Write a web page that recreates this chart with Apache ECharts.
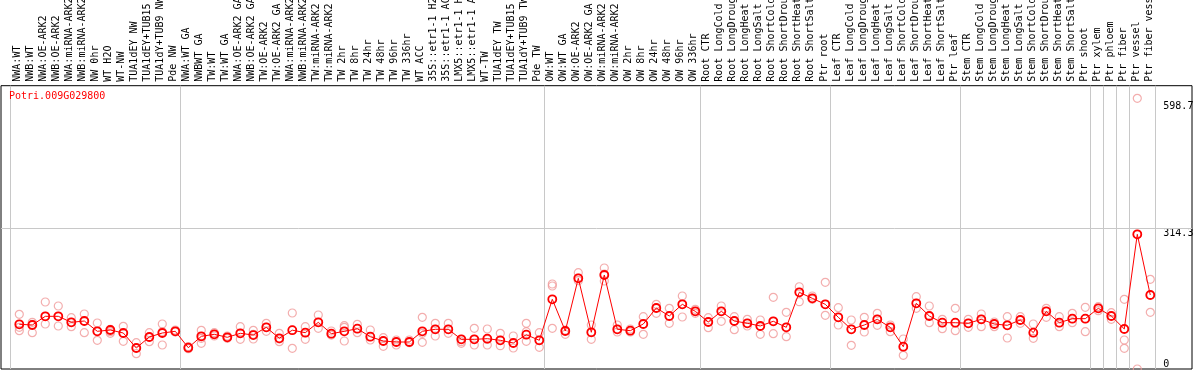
<!DOCTYPE html>
<html>
<head>
<meta charset="utf-8">
<script src="https://cdn.jsdelivr.net/npm/echarts@6/dist/echarts.min.js"></script>
<style>
html,body{margin:0;padding:0;background:#fff;}
#c{width:1194px;height:370px;}
</style>
</head>
<body>
<div id="c"></div>
<script>
const geneId = 'Potri.009G029800';

const categories = [
  'NWA:WT','NWB:WT','NWA:OE-ARK2','NWB:OE-ARK2','NWA:miRNA-ARK2','NWB:miRNA-ARK2','NW 0hr','WT H2O','WT-NW','TUA1dEY NW','TUA1dEY+TUB15 NW','TUA1dY+TUB9 NW','Pde NW',
  'NWA:WT GA','NWBWT GA','TW:WT','TW:WT GA','NWA:OE-ARK2 GA','NWB:OE-ARK2 GA','TW:OE-ARK2','TW:OE-ARK2 GA','NWA:miRNA-ARK2 GA','NWB:miRNA-ARK2 GA','TW:miRNA-ARK2','TW:miRNA-ARK2 GA',
  'TW 2hr','TW 8hr','TW 24hr','TW 48hr','TW 96hr','TW 336hr','WT ACC','35S::etr1-1 H2O','35S::etr1-1 ACC','LMX5::etr1-1 H2O','LMX5::etr1-1 ACC','WT-TW','TUA1dEY TW','TUA1dEY+TUB15 TW','TUA1dY+TUB9 TW','Pde TW',
  'OW:WT','OW:WT GA','OW:OE-ARK2','OW:OE-ARK2 GA','OW:miRNA-ARK2','OW:miRNA-ARK2 GA','OW 2hr','OW 8hr','OW 24hr','OW 48hr','OW 96hr','OW 336hr',
  'Root CTR','Root LongCold','Root LongDrought','Root LongHeat','Root LongSalt','Root ShortCold','Root ShortDrought','Root ShortHeat','Root ShortSalt','Ptr root',
  'Leaf CTR','Leaf LongCold','Leaf LongDrought','Leaf LongHeat','Leaf LongSalt','Leaf ShortCold','Leaf ShortDrought','Leaf ShortHeat','Leaf ShortSalt','Ptr leaf',
  'Stem CTR','Stem LongCold','Stem LongDrought','Stem LongHeat','Stem LongSalt','Stem ShortCold','Stem ShortDrought','Stem ShortHeat','Stem ShortSalt','Ptr shoot',
  'Ptr xylem','Ptr phloem','Ptr fiber','Ptr vessel','Ptr fiber vessel'
];

// index of first category of each sample group (separator lines)
const groupStarts = [0, 13, 41, 53, 63, 73, 83, 84, 85, 86];

const meanValues = [
  99.9, 98.3, 117.7, 117.7, 104.3, 107.2, 84.2, 87.1, 80.4, 46.9, 71.5, 80.4, 84.2,
  47.6, 73.0, 77.5, 70.8, 79.7, 75.9, 93.1, 68.6, 86.7, 81.1, 104.3, 78.9, 84.2, 90.0, 72.2, 62.5, 60.3, 60.3, 84.2, 88.7, 88.7, 66.3, 66.3, 67.7, 64.1, 58.1, 76.6, 64.1,
  155.7, 84.9, 202.6, 82.0, 210.0, 88.7, 85.6, 100.5, 136.3, 118.4, 144.5, 128.9,
  105.0, 128.9, 107.2, 102.1, 96.1, 106.6, 93.1, 171.3, 157.9, 144.5,
  115.5, 88.7, 98.3, 111.0, 93.1, 49.8, 146.8, 118.4, 103.4, 103.4,
  102.1, 111.0, 100.5, 97.6, 109.5, 81.1, 128.9, 103.4, 112.4, 112.4,
  135.6, 118.4, 89.4, 300.9, 165.3
];

const rep1 = [
  122.2, 104.3, 149.7, 140.7, 114.6, 122.9, 102.8, 88.7, 95.4, 58.7, 81.1, 100.5, 87.1,
  49.8, 86.4, 81.1, 73.7, 94.5, 86.4, 102.1, 79.7, 125.1, 94.5, 120.6, 84.9, 96.7, 99.9, 87.1, 69.9, 64.8, 64.8, 115.5, 102.1, 102.1, 66.3, 90.9, 89.4, 79.7, 73.7, 102.1, 81.1,
  189.9, 87.1, 215.1, 98.3, 225.6, 98.3, 89.4, 116.8, 144.5, 135.6, 163.1, 133.4,
  114.6, 140.7, 116.8, 111.0, 109.5, 160.2, 126.7, 183.8, 163.1, 193.7,
  136.9, 109.5, 115.5, 124.4, 98.3, 67.0, 161.5, 140.7, 111.0, 135.6,
  111.0, 122.9, 105.0, 116.8, 116.8, 100.5, 135.6, 116.8, 124.4, 137.8,
  139.2, 125.8, 155.7, 604.7, 200.4
];
const rep2 = [
  93.1, 99.9, 117.7, 117.7, 104.3, 107.2, 84.2, 83.3, 79.7, 46.9, 70.8, 83.3, 84.2,
  47.6, 68.6, 77.5, 70.8, 79.7, 77.5, 93.1, 67.0, 87.1, 81.1, 104.3, 78.9, 93.1, 90.0, 72.2, 62.5, 60.3, 60.3, 79.7, 88.7, 88.7, 61.0, 66.3, 66.3, 64.1, 58.1, 83.3, 64.1,
  185.4, 84.9, 203.3, 82.0, 212.2, 88.7, 85.6, 100.5, 136.3, 118.4, 144.5, 128.9,
  105.0, 128.9, 107.2, 102.1, 96.1, 106.6, 93.1, 171.3, 157.9, 144.5,
  115.5, 88.7, 98.3, 111.0, 93.1, 49.8, 146.8, 118.4, 103.4, 103.4,
  102.1, 111.0, 100.5, 97.6, 109.5, 81.1, 128.9, 103.4, 112.4, 112.4,
  135.6, 118.4, 64.8, 300.9, 165.3
];
const rep3 = [
  85.6, 81.1, 100.5, 96.1, 94.5, 81.1, 64.1, 79.7, 61.9, 34.2, 61.0, 53.6, 82.7,
  45.3, 57.4, 73.7, 68.6, 66.3, 67.0, 84.2, 61.0, 46.2, 66.3, 90.9, 75.9, 62.5, 81.1, 64.8, 50.7, 53.6, 58.7, 59.6, 73.7, 79.7, 57.4, 53.6, 53.6, 52.0, 46.9, 61.9, 48.5,
  90.9, 77.5, 197.2, 66.3, 196.6, 82.7, 82.7, 77.5, 124.4, 102.1, 116.2, 124.4,
  92.3, 106.6, 87.8, 96.1, 77.5, 78.9, 72.2, 150.3, 155.7, 120.0,
  98.3, 52.9, 82.7, 97.6, 83.3, 30.6, 135.6, 103.4, 90.0, 85.6,
  93.1, 94.5, 94.5, 69.2, 102.1, 68.6, 115.5, 94.5, 103.4, 83.3,
  130.2, 111.0, 46.2, 0, 126.7
];

const yTickValues = [314.3, 598.7];
const yZeroTick = [0];
const gridLineValue = 314.3;

const FONT = '"DejaVu Sans Mono", monospace';
const chart = echarts.init(document.getElementById('c'), null, {renderer: 'canvas', width: 1194, height: 370});

const repPoints = [];
[rep1, rep2, rep3].forEach(function (arr) {
  arr.forEach(function (v, i) { repPoints.push([i, v]); });
});
const meanPoints = meanValues.map(function (v, i) { return [i, v]; });
const isGroupStart = function (i) { return groupStarts.indexOf(i) >= 0; };

const yLabelBase = {fontSize: 10, fontFamily: FONT, color: '#000', margin: 0, align: 'left'};

chart.setOption({
  animation: false,
  backgroundColor: '#ffffff',
  title: {
    text: geneId, left: 9, top: 91, padding: 0,
    textStyle: {color: '#ff0000', fontSize: 10, fontFamily: FONT, fontWeight: 'normal'}
  },
  grid: [
    {left: 1, right: 2, top: 85.7, bottom: 1, show: true, borderColor: '#000', borderWidth: 1,
     backgroundColor: 'transparent', containLabel: false, outerBoundsMode: 'none'},
    {left: 10.7, right: 38.3, top: 85.7, bottom: 1, show: false, containLabel: false, outerBoundsMode: 'none'}
  ],
  xAxis: [
    {type: 'value', gridIndex: 0, min: -1.4077, max: 90.208, show: false},
    {type: 'category', gridIndex: 1, data: categories, position: 'top', boundaryGap: true,
     axisLine: {show: false},
     axisTick: {show: true, interval: isGroupStart, length: 86, lineStyle: {color: '#c8c8c8', width: 1}},
     splitLine: {show: true, interval: isGroupStart, lineStyle: {color: '#c8c8c8', width: 1}},
     axisLabel: {interval: 0, rotate: 90, margin: 4, fontSize: 10, fontFamily: FONT, color: '#000'}}
  ],
  yAxis: [
    {type: 'value', gridIndex: 0, min: 0, max: 632.9, position: 'right', offset: -28.7,
     splitLine: {show: false}, axisLine: {show: false}, axisTick: {show: false},
     axisLabel: Object.assign({customValues: yTickValues, verticalAlign: 'top',
       formatter: function (v) { return String(v); }}, yLabelBase)},
    {type: 'value', gridIndex: 0, min: 0, max: 632.9, position: 'right', offset: -28.7,
     splitLine: {show: false}, axisLine: {show: false}, axisTick: {show: false},
     axisLabel: Object.assign({customValues: yZeroTick, verticalAlign: 'bottom',
       formatter: function (v) { return String(v); }}, yLabelBase)},
    {type: 'value', gridIndex: 1, show: false}
  ],
  series: [
    {
      type: 'scatter', name: 'replicates', xAxisIndex: 0, yAxisIndex: 0,
      data: repPoints, symbol: 'circle', symbolSize: 8, clip: false, silent: true, z: 2,
      itemStyle: {color: 'rgba(0,0,0,0)', borderColor: '#f09a9a', borderWidth: 1.2}
    },
    {
      type: 'line', name: 'mean', xAxisIndex: 0, yAxisIndex: 0,
      data: meanPoints, symbol: 'circle', symbolSize: 8, showAllSymbol: true, silent: true, z: 3,
      lineStyle: {color: '#ff0000', width: 1},
      itemStyle: {color: 'rgba(255,0,0,0)', borderColor: '#ff0000', borderWidth: 1.8},
      markLine: {
        silent: true, symbol: ['none', 'none'], label: {show: false},
        lineStyle: {color: '#c8c8c8', type: 'solid', width: 1},
        data: [{yAxis: gridLineValue}]
      }
    }
  ]
});
</script>
</body>
</html>
